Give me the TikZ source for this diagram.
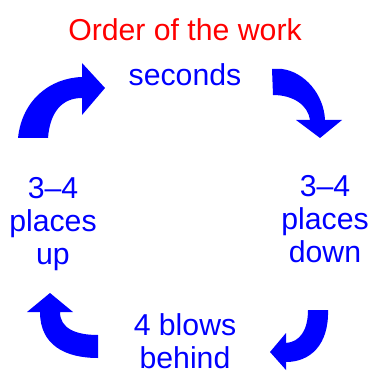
\documentclass[tikz,border=0pt]{standalone}
\usepackage{fontspec}
\setmainfont{Liberation Sans}

\begin{document}
\begin{tikzpicture}[
  x=0.02cm, y=-0.02cm,
  every node/.style={font=\fontsize{17.2}{18.8}\selectfont, inner sep=0pt},
  heading/.style={text=red, anchor=north},
  stage/.style={text=blue, align=center, anchor=north},
  turn/.style={fill=blue, draw=none}
]
  \useasboundingbox (0,0) rectangle (372,374);

  \node[heading] (title) at (185,18) {Order of the work};
  \node[stage] (secs) at (185,63) {seconds};
  \node[stage] (down) at (325,175) {3--4\\places\\down};
  \node[stage] (behind) at (185,313) {4 blows\\behind};
  \node[stage] (up) at (53,177) {3--4\\places\\up};

  % curved arrows, clockwise round the stages
  \fill[turn] (18,138) .. controls (22,100) and (50,78) .. (82,77)
    -- (82,63) -- (105,88) -- (82,115) -- (82,98)
    .. controls (62,98) and (50,112) .. (48,138) -- cycle;
  \fill[turn] (272,69) -- (282,69) .. controls (305,72) and (324,95) .. (325,120)
    -- (342,120) -- (320,138) -- (296,120) -- (310,120)
    .. controls (308,105) and (293,95) .. (273,95) -- cycle;
  \fill[turn] (308,310) -- (328,310) .. controls (329,345) and (310,362) .. (286,362)
    -- (286,370) -- (270,352) -- (286,333) -- (286,343)
    .. controls (300,342) and (308,330) .. (308,310) -- cycle;
  \fill[turn] (98,358) .. controls (65,358) and (40,345) .. (40,312)
    -- (27,312) -- (50,293) -- (73,312) -- (60,312)
    .. controls (60,328) and (75,335) .. (98,335) -- cycle;
\end{tikzpicture}
\end{document}
